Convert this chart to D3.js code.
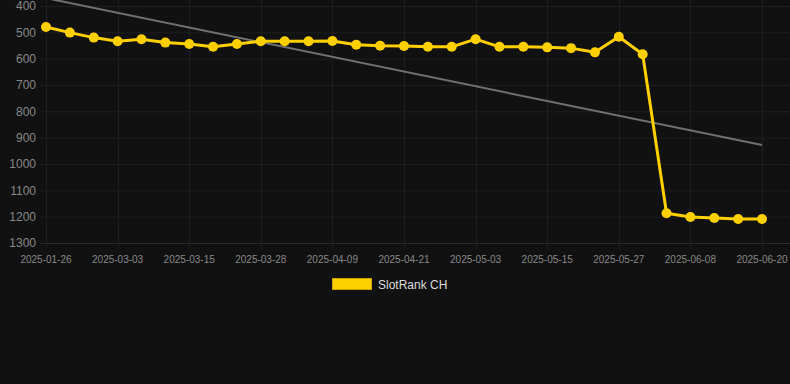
<!DOCTYPE html>
<html>
<head>
<meta charset="utf-8">
<script src="https://cdn.jsdelivr.net/npm/d3@7"></script>
<style>
  html, body { margin: 0; padding: 0; background: #111111; }
  svg { display: block; font-family: "Liberation Sans", Arial, sans-serif; }
</style>
</head>
<body>
<div id="chart"></div>
<script>
// Dates of each sample (only every 3rd one gets an axis label)
var dates = [
  "2025-01-26", "2025-02-07", "2025-02-19", "2025-03-03", "2025-03-07", "2025-03-11",
  "2025-03-15", "2025-03-19", "2025-03-24", "2025-03-28", "2025-04-01", "2025-04-05",
  "2025-04-09", "2025-04-13", "2025-04-17", "2025-04-21", "2025-04-25", "2025-04-29",
  "2025-05-03", "2025-05-07", "2025-05-11", "2025-05-15", "2025-05-19", "2025-05-23",
  "2025-05-27", "2025-05-31", "2025-06-04", "2025-06-08", "2025-06-12", "2025-06-16",
  "2025-06-20"
];

// SlotRank CH rank values
var rankCH = [
  480, 501, 520, 534, 526, 539, 544, 555, 544, 534, 534, 534, 533, 547, 551, 552,
  555, 555, 526, 555, 555, 557, 560, 576, 517, 583, 1187, 1201, 1205, 1209, 1209
];

// Trend line end values (first and last date)
var trendEnds = [370, 928];

var yTicks = [400, 500, 600, 700, 800, 900, 1000, 1100, 1200, 1300];
var seriesName = "SlotRank CH";

var width = 790, height = 384;
var yellow = "#ffd000";

var svg = d3.select("#chart").append("svg")
  .attr("width", width)
  .attr("height", height);

var x = d3.scalePoint().domain(dates).range([46, 762]);
var y = d3.scaleLinear().domain([400, 1300]).range([6, 243]);

var labelDates = dates.filter(function(d, i) { return i % 3 === 0; });

// Grid
var grid = svg.append("g");
grid.selectAll(".hgrid")
  .data(yTicks)
  .enter().append("line")
  .attr("x1", 40).attr("x2", width)
  .attr("y1", function(d) { return y(d) + 0.5; })
  .attr("y2", function(d) { return y(d) + 0.5; })
  .attr("stroke", function(d) { return d === 1300 ? "#2c2c2c" : "#1f1f1f"; })
  .attr("stroke-width", 1);

grid.selectAll(".vgrid")
  .data(labelDates)
  .enter().append("line")
  .attr("x1", function(d) { return Math.round(x(d)) + 0.5; })
  .attr("x2", function(d) { return Math.round(x(d)) + 0.5; })
  .attr("y1", 0).attr("y2", 249)
  .attr("stroke", "#1f1f1f")
  .attr("stroke-width", 1);

// Y axis labels
svg.append("g").selectAll("text")
  .data(yTicks)
  .enter().append("text")
  .attr("x", 36)
  .attr("y", function(d) { return y(d); })
  .attr("dy", "0.35em")
  .attr("text-anchor", "end")
  .attr("fill", "#888888")
  .attr("font-size", 12)
  .text(function(d) { return d; });

// X axis labels
svg.append("g").selectAll("text")
  .data(labelDates)
  .enter().append("text")
  .attr("x", function(d) { return x(d); })
  .attr("y", 259)
  .attr("dy", "0.35em")
  .attr("text-anchor", "middle")
  .attr("fill", "#888888")
  .attr("font-size", 10)
  .text(function(d) { return d; });

// Trend line
svg.append("line")
  .attr("x1", x(dates[0])).attr("y1", y(trendEnds[0]))
  .attr("x2", x(dates[dates.length - 1])).attr("y2", y(trendEnds[1]))
  .attr("stroke", "#707070")
  .attr("stroke-width", 2);

// Series line
var line = d3.line()
  .x(function(d, i) { return x(dates[i]); })
  .y(function(d) { return y(d); });

svg.append("path")
  .datum(rankCH)
  .attr("fill", "none")
  .attr("stroke", yellow)
  .attr("stroke-width", 3)
  .attr("stroke-linejoin", "round")
  .attr("d", line);

svg.append("g").selectAll("circle")
  .data(rankCH)
  .enter().append("circle")
  .attr("cx", function(d, i) { return x(dates[i]); })
  .attr("cy", function(d) { return y(d); })
  .attr("r", 5)
  .attr("fill", yellow);

// Legend
var legend = svg.append("g");
legend.append("rect")
  .attr("x", 332.5).attr("y", 278.5)
  .attr("width", 39).attr("height", 11)
  .attr("fill", yellow)
  .attr("stroke", "#c9a400")
  .attr("stroke-width", 1);
legend.append("text")
  .attr("x", 378)
  .attr("y", 284.5)
  .attr("dy", "0.35em")
  .attr("fill", "#dddddd")
  .attr("font-size", 12)
  .text(seriesName);
</script>
</body>
</html>
